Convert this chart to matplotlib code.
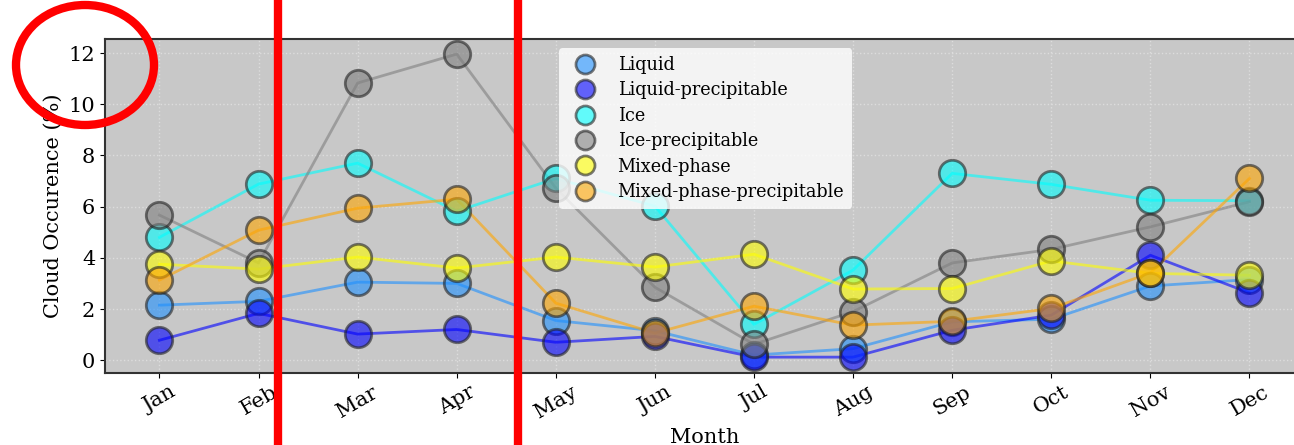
import numpy as np
import matplotlib
matplotlib.use("Agg")
import matplotlib.pyplot as plt
from matplotlib.patches import Ellipse
from matplotlib.lines import Line2D

plt.rcParams['font.family'] = 'DejaVu Serif'

months = ['Jan', 'Feb', 'Mar', 'Apr', 'May', 'Jun',
          'Jul', 'Aug', 'Sep', 'Oct', 'Nov', 'Dec']

liquid = [2.15, 2.3, 3.05, 3.0, 1.55, 1.15, 0.2, 0.45, 1.5, 1.6, 2.9, 3.15]
liquid_precip = [0.78, 1.83, 1.02, 1.2, 0.7, 0.93, 0.12, 0.12, 1.17, 1.76, 4.1, 2.63]
ice = [4.8, 6.88, 7.7, 5.82, 7.1, 6.02, 1.4, 3.52, 7.3, 6.87, 6.25, 6.23]
ice_precip = [5.67, 3.8, 10.83, 11.96, 6.72, 2.85, 0.62, 1.9, 3.8, 4.33, 5.21, 6.19]
mixed = [3.75, 3.56, 4.03, 3.6, 4.03, 3.64, 4.14, 2.78, 2.8, 3.88, 3.39, 3.32]
mixed_precip = [3.13, 5.08, 5.94, 6.29, 2.23, 1.06, 2.11, 1.37, 1.52, 2.02, 3.41, 7.1]

series = [
    ('Liquid', liquid, 'dodgerblue'),
    ('Liquid-precipitable', liquid_precip, 'blue'),
    ('Ice', ice, 'cyan'),
    ('Ice-precipitable', ice_precip, 'gray'),
    ('Mixed-phase', mixed, 'yellow'),
    ('Mixed-phase-precipitable', mixed_precip, 'orange'),
]

fig = plt.figure(figsize=(12.94, 4.45), dpi=100)
ax = fig.add_axes([0.0811, 0.1618, 0.9266, 0.7506])
ax.set_facecolor('#c8c8c8')

x = np.arange(len(months))
for name, vals, col in series:
    ax.plot(x, vals, color=col, alpha=0.6, lw=2, zorder=2)
    ax.plot(x, vals, 'o', color=col, alpha=0.6, markersize=19,
            markeredgecolor='#222222', markeredgewidth=2, label=name, zorder=3)

ax.set_xlim(-0.55, 11.55)
ax.set_ylim(-0.5, 12.55)
ax.set_xticks(x)
ax.set_xticklabels(months, rotation=30, fontsize=15)
ax.set_yticks(range(0, 13, 2))
ax.tick_params(axis='y', labelsize=15)
ax.set_xlabel('Month', fontsize=15)
ax.set_ylabel('Cloud Occurence (%)', fontsize=15)
ax.grid(True, linestyle=':', color='#dddddd', lw=1)
for s in ax.spines.values():
    s.set_color('#333333')
    s.set_linewidth(1.5)

ax.legend(loc='upper left', bbox_to_anchor=(0.379, 0.973), borderaxespad=0,
          fontsize=12.7, markerscale=0.72,
          frameon=True, facecolor='white', framealpha=0.8, edgecolor='none',
          handletextpad=0.85, labelspacing=0.42, borderpad=0.45)

# red annotations on top of the figure
W, H = 1294, 445
for px in (278, 518):
    fig.add_artist(Line2D([px / W, px / W], [0, 1], color='red', lw=6,
                          transform=fig.transFigure))
fig.add_artist(Ellipse((85 / W, 1 - 65 / H), 138 / W, 120 / H, fill=False,
                       edgecolor='red', lw=6, transform=fig.transFigure))

fig.savefig('out.png', dpi=100)
